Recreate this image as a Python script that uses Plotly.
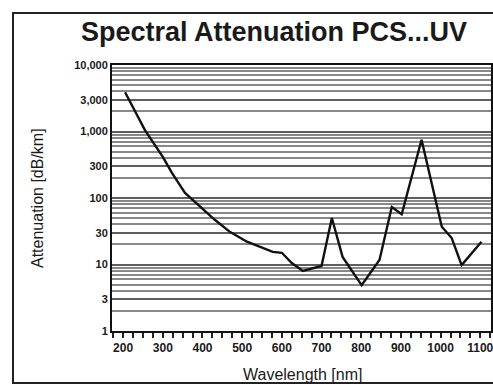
import plotly.graph_objects as go

wavelength_nm = [205, 255, 300, 323, 356, 394, 431, 469, 512, 577, 600, 625, 653, 700, 726, 753, 801, 846, 877, 902, 952, 1003, 1028, 1053, 1103]
attenuation_db_km = [3900, 1050, 415, 238, 119, 73, 47, 31, 22, 15.5, 15, 10.5, 8, 9.5, 50, 13, 4.9, 11.7, 73, 57, 750, 37, 25, 9.8, 22]

y_tick_vals = [1, 3, 10, 30, 100, 300, 1000, 3000, 10000]
y_tick_text = ["1", "3", "10", "30", "100", "300", "1,000", "3,000", "10,000"]
y_minor_vals = [m * d for d in [1, 10, 100, 1000] for m in [2, 4, 5, 6, 7, 8, 9]]
x_tick_vals = [200, 300, 400, 500, 600, 700, 800, 900, 1000, 1100]

fig = go.Figure()
fig.add_trace(go.Scatter(
    x=wavelength_nm, y=attenuation_db_km, mode="lines",
    line=dict(color="#111111", width=2.4), showlegend=False, hoverinfo="skip"))

L, R, T, B = 112, 2, 65, 54
W, H = 493, 385
pw = W - L - R
ph = H - T - B

fig.update_layout(
    width=W, height=H,
    margin=dict(l=L, r=R, t=T, b=B),
    paper_bgcolor="white", plot_bgcolor="white",
    title=dict(text="<b>Spectral Attenuation PCS...UV</b>", x=274 / W, xanchor="center",
               y=1 - 32 / H, yanchor="middle", xref="container", yref="container",
               font=dict(family="Liberation Sans", size=27, color="#1a1a1a")),
    font=dict(family="Liberation Sans", color="#1a1a1a"),
)

fig.update_xaxes(
    range=[172, 1127], showgrid=False, zeroline=False, automargin=False,
    tickmode="array", tickvals=x_tick_vals, ticktext=["<b>%d</b>" % v for v in x_tick_vals],
    ticklabeloverflow="allow",
    ticks="outside", ticklen=5, tickwidth=1.5, tickcolor="#222",
    minor=dict(dtick=25, tick0=200, ticks="outside", ticklen=5, tickwidth=1.5, tickcolor="#222"),
    showline=True, linecolor="#111", linewidth=2, mirror=True,
    tickfont=dict(size=12, color="#1a1a1a", family="Liberation Sans Narrow, Liberation Sans"),
)

fig.update_yaxes(
    type="log", range=[0, 4], zeroline=False, automargin=False,
    tickmode="array", tickvals=y_tick_vals, ticktext=["<b>%s</b>" % t for t in y_tick_text],
    ticks="", showgrid=True, gridcolor="#5e5e5e", gridwidth=2,
    minor=dict(tickmode="array", tickvals=y_minor_vals, showgrid=True,
               gridcolor="#888888", gridwidth=1.8, ticks=""),
    showline=True, linecolor="#111", linewidth=2, mirror=True,
    tickfont=dict(size=11, color="#1a1a1a", family="Liberation Sans Narrow, Liberation Sans"),
)

fig.add_annotation(text="Attenuation [dB/km]", textangle=-90, showarrow=False,
                   xref="paper", yref="paper", x=(37 - L) / pw, y=(H - B - 198) / ph,
                   xanchor="center", yanchor="middle",
                   font=dict(size=16, family="Liberation Sans Narrow, Liberation Sans", color="#1a1a1a"))
fig.add_annotation(text="Wavelength [nm]", showarrow=False,
                   xref="paper", yref="paper", x=(302 - L) / pw, y=(H - B - 375) / ph,
                   xanchor="center", yanchor="middle",
                   font=dict(size=16, family="Liberation Sans", color="#1a1a1a"))

fig.add_shape(type="rect", xref="paper", yref="paper",
              x0=(13 - L) / pw, x1=(500 - L) / pw,
              y0=(H - B - 383) / ph, y1=(H - B - 13) / ph,
              line=dict(color="#222", width=2), layer="above")

fig.write_html("out.html", config={"displayModeBar": False},
               post_script="document.body.style.margin='0';document.body.style.overflow='hidden';")
